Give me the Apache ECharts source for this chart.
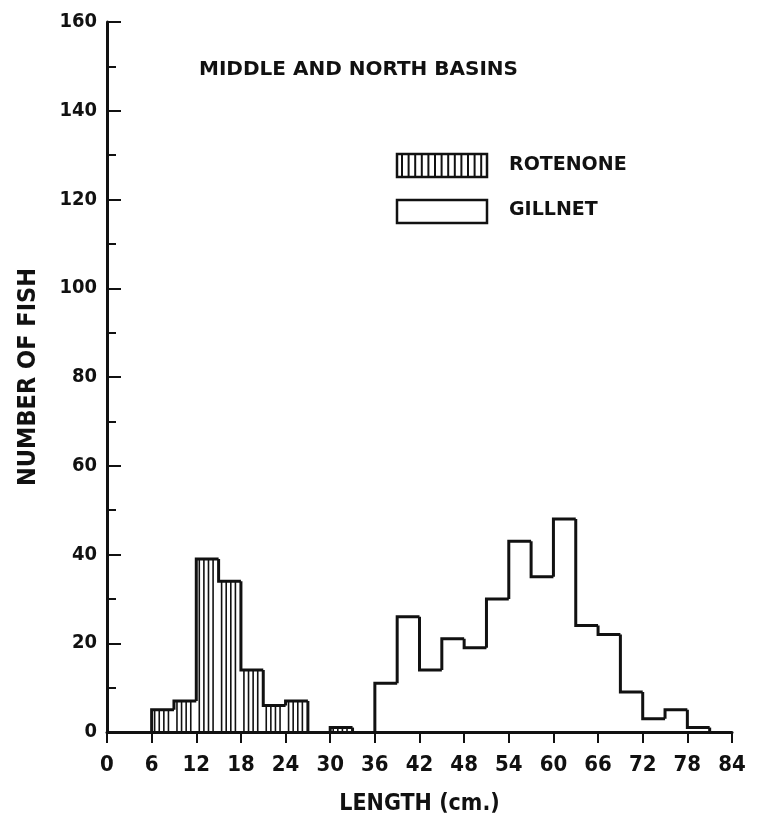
<!DOCTYPE html>
<html>
<head>
<meta charset="utf-8">
<script src="https://cdn.jsdelivr.net/npm/echarts@6/dist/echarts.min.js"></script>
<style>
html,body{margin:0;padding:0;background:#fff;}
#chart{width:757px;height:827px;}
</style>
</head>
<body>
<div id="chart"></div>
<script>
// Data (length class start in cm, class width 3 cm)
const binWidth = 3;
const rotenoneStarts = [6, 9, 12, 15, 18, 21, 24, 30];
const rotenoneCounts = [5, 7, 39, 34, 14, 6, 7, 1];
const gillnetStarts = [36, 39, 42, 45, 48, 51, 54, 57, 60, 63, 66, 69, 72, 75, 78];
const gillnetCounts = [11, 26, 14, 21, 19, 30, 43, 35, 48, 24, 22, 9, 3, 5, 1];
const xTicks = [0, 6, 12, 18, 24, 30, 36, 42, 48, 54, 60, 66, 72, 78, 84];
const yTicks = [0, 20, 40, 60, 80, 100, 120, 140, 160];
const titleText = 'MIDDLE AND NORTH BASINS';
const legendNames = ['ROTENONE', 'GILLNET'];

const FONT = 'DejaVu Sans';
const FONTC = 'DejaVu Sans Condensed';
const INK = '#111';

function makeRender(starts, counts, hatched) {
  return function (params, api) {
    const i = params.dataIndex;
    const s = api.value(0);
    const e = s + binWidth;
    const v = api.value(1);
    const prevContig = i > 0 && starts[i - 1] + binWidth === s;
    const nextContig = i < starts.length - 1 && starts[i + 1] === e;
    const prevV = prevContig ? counts[i - 1] : 0;
    const pBL = api.coord([s, 0]);
    const pTR = api.coord([e, v]);
    const pPrev = api.coord([s, prevV]);
    const pTL = api.coord([s, v]);
    const pBR = api.coord([e, 0]);
    const children = [];
    const lw = 3;
    if (hatched) {
      const x0 = pBL[0], x1 = pTR[0];
      const yTop = pTR[1], yBot = pBL[1];
      for (let x = x0 + 3; x < x1 - 1; x += 4.6) {
        children.push({
          type: 'line',
          shape: {x1: x, y1: yTop, x2: x, y2: yBot},
          style: {stroke: INK, lineWidth: 1.6}
        });
      }
    }
    children.push({
      type: 'polyline',
      shape: {points: [pPrev, pTL, pTR]},
      style: {stroke: INK, lineWidth: lw, fill: null, lineJoin: 'miter'}
    });
    if (!nextContig) {
      children.push({
        type: 'line',
        shape: {x1: pTR[0], y1: pTR[1], x2: pBR[0], y2: pBR[1]},
        style: {stroke: INK, lineWidth: lw}
      });
    }
    return {type: 'group', children: children};
  };
}

const rotData = rotenoneStarts.map((s, i) => [s, rotenoneCounts[i]]);
const gilData = gillnetStarts.map((s, i) => [s, gillnetCounts[i]]);

// legend decoration
const legendGraphics = [];
const lgX = 397, lgW = 90, lgH = 23;
const lgY = [154, 200];
for (let x = lgX + 5; x < lgX + lgW - 2; x += 6.6) {
  legendGraphics.push({type: 'line', shape: {x1: x, y1: lgY[0], x2: x, y2: lgY[0] + lgH}, style: {stroke: INK, lineWidth: 2}});
}
legendGraphics.push({type: 'rect', shape: {x: lgX, y: lgY[0], width: lgW, height: lgH}, style: {fill: null, stroke: INK, lineWidth: 2.5}});
legendGraphics.push({type: 'rect', shape: {x: lgX, y: lgY[1], width: lgW, height: lgH}, style: {fill: null, stroke: INK, lineWidth: 2.5}});
legendGraphics.push({type: 'text', left: 509, top: lgY[0] + 2, style: {text: legendNames[0], font: 'bold 19px "' + FONT + '"', fill: INK}});
legendGraphics.push({type: 'text', left: 509, top: lgY[1] + 1, style: {text: legendNames[1], font: 'bold 19px "' + FONT + '"', fill: INK}});

const chart = echarts.init(document.getElementById('chart'), null, {renderer: 'canvas'});
chart.setOption({
  backgroundColor: '#fff',
  animation: false,
  title: {
    text: titleText,
    left: 194, top: 55,
    textStyle: {fontFamily: FONT, fontSize: 20, fontWeight: 'bold', color: INK}
  },
  grid: {left: 107, right: 25, top: 22, bottom: 95, containLabel: false},
  xAxis: {
    type: 'value', min: 0, max: 84, interval: 6,
    name: 'LENGTH (cm.)', nameLocation: 'middle', nameGap: 61,
    nameTextStyle: {fontFamily: FONTC, fontSize: 23, fontWeight: 'bold', color: INK},
    axisLine: {lineStyle: {color: INK, width: 3}},
    axisTick: {show: true, length: 11, lineStyle: {color: INK, width: 2}},
    axisLabel: {fontFamily: FONTC, fontSize: 22, fontWeight: 'bold', color: INK, margin: 22},
    splitLine: {show: false}
  },
  yAxis: {
    type: 'value', min: 0, max: 160, interval: 20,
    name: 'NUMBER OF FISH', nameLocation: 'middle', nameGap: 66, nameRotate: 90,
    nameTextStyle: {fontFamily: FONTC, fontSize: 25, fontWeight: 'bold', color: INK},
    axisLine: {show: true, lineStyle: {color: INK, width: 3}},
    axisTick: {show: true, inside: true, length: 14, lineStyle: {color: INK, width: 2}},
    minorTick: {show: true, splitNumber: 2, length: 9, lineStyle: {color: INK, width: 2}},
    axisLabel: {fontFamily: FONTC, fontSize: 20, fontWeight: 'bold', color: INK, margin: 10},
    splitLine: {show: false}
  },
  graphic: legendGraphics,
  series: [
    {
      name: legendNames[0], type: 'custom', renderItem: makeRender(rotenoneStarts, rotenoneCounts, true),
      encode: {x: 0, y: 1}, data: rotData, clip: false, z: 3
    },
    {
      name: legendNames[1], type: 'custom', renderItem: makeRender(gillnetStarts, gillnetCounts, false),
      encode: {x: 0, y: 1}, data: gilData, clip: false, z: 3
    }
  ]
});
</script>
</body>
</html>
